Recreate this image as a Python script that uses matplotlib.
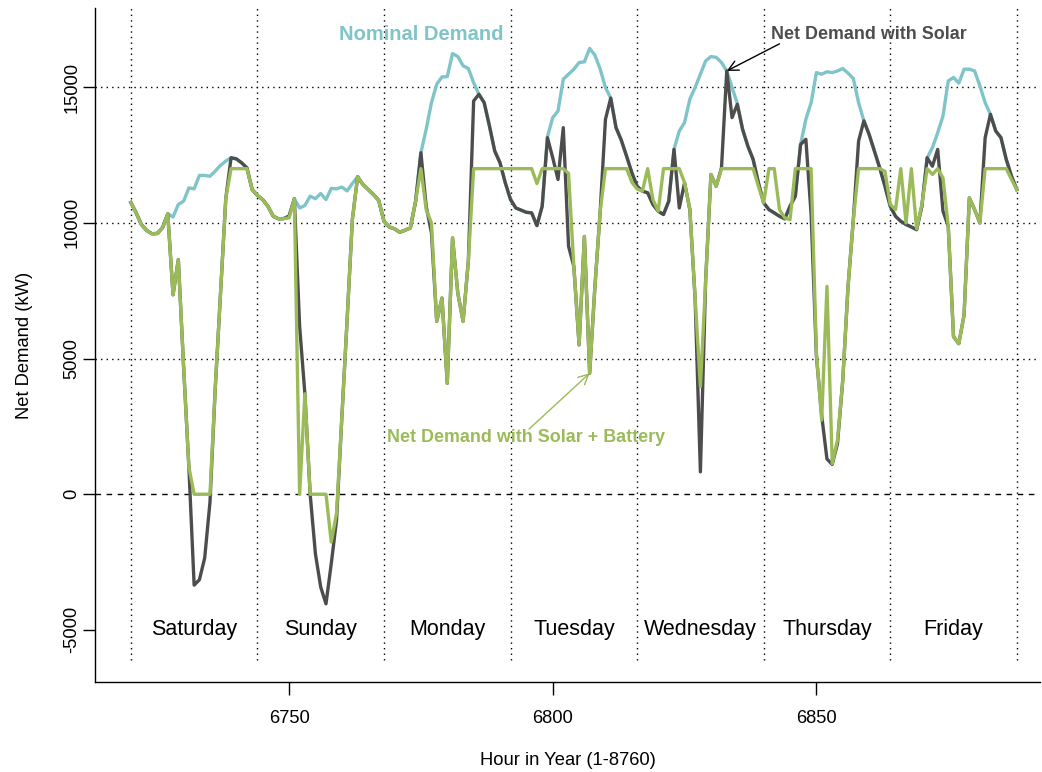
import numpy as np
import matplotlib
matplotlib.use("Agg")
import matplotlib.pyplot as plt

plt.rcParams['font.family'] = ['Liberation Sans', 'DejaVu Sans']

hours = list(range(6720, 6889))

green_battery = [
    10750, 10370, 9940, 9720, 9600, 9610, 9820, 10330, 7350, 8650,
    4700, 1000, 0, 0, 0, 0, 3900, 7400, 10900, 12000,
    12000, 12000, 12000, 11230, 11010, 10860, 10610, 10245, 10150, 10160,
    10185, 10890, 0, 3700, 0, 0, 0, 0, -1760, -700,
    2800, 6400, 10120, 11700, 11415, 11230, 11045, 10830, 10060, 9850,
    9780, 9655, 9730, 9815, 10800, 12000, 10490, 10000, 6370, 7230,
    4090, 9445, 7410, 6370, 8600, 12000, 12000, 12000, 12000, 12000,
    12000, 12000, 12000, 12000, 12000, 12000, 12000, 11450, 12000, 12000,
    12000, 12000, 12000, 11820, 8400, 5505, 9500, 4460, 7660, 10430,
    12000, 12000, 12000, 12000, 12000, 11500, 11250, 11170, 12000, 10860,
    10430, 12000, 12000, 12000, 12000, 11480, 10490, 7200, 3965, 7900,
    11785, 11350, 12000, 12000, 12000, 12000, 12000, 12000, 12000, 11350,
    10740, 12000, 12000, 10490, 10185, 10120, 12000, 12000, 12000, 12000,
    5200, 2735, 7660, 1130, 2000, 4210, 7660, 10120, 12000, 12000,
    12000, 12000, 12000, 11900, 10680, 10490, 12000, 10000, 12000, 9780,
    10680, 12000, 11785, 12000, 11660, 9877, 5810, 5550, 6600, 10920,
    10490, 10000, 12000, 12000, 12000, 12000, 12000, 11600, 11230,
]

net_solar = [
    10750, 10370, 9940, 9720, 9600, 9610, 9820, 10330, 7350, 8650,
    4700, 1000, -3350, -3150, -2350, -300, 3900, 7400, 10900, 12400,
    12360, 12215, 12030, 11230, 11010, 10860, 10610, 10245, 10150, 10160,
    10250, 10890, 6200, 3700, 0, -2200, -3420, -4040, -2560, -960,
    2800, 6400, 10120, 11700, 11415, 11230, 11045, 10830, 10060, 9850,
    9780, 9655, 9730, 9815, 10800, 12586, 10615, 9630, 6370, 7230,
    4090, 9445, 7410, 6370, 8600, 14494, 14740, 14430, 13570, 12650,
    12216, 11478, 10860, 10550, 10470, 10390, 10370, 9900, 10615, 13140,
    12400, 11600, 13510, 9140, 8400, 5505, 9500, 4460, 7660, 10430,
    13820, 14600, 13510, 13050, 12460, 11850, 11350, 11170, 11110, 10680,
    10430, 10310, 10800, 12710, 10550, 11480, 10490, 7200, 825, 7900,
    11785, 11350, 12030, 15600, 13880, 14370, 13450, 12830, 12340, 11480,
    10740, 10490, 10370, 10245, 10150, 10615, 10985, 12890, 13080, 10300,
    5100, 2900, 1300, 1100, 1870, 4210, 7660, 10120, 13020, 13760,
    13260, 12650, 12030, 11350, 10615, 10245, 10060, 9940, 9850, 9750,
    10615, 12400, 12090, 12710, 10430, 9877, 5810, 5550, 6600, 10920,
    10490, 10000, 13140, 14000, 13390, 13140, 12340, 11720, 11230,
]

nominal = [
    10750, 10370, 9940, 9720, 9600, 9610, 9820, 10330, 10220, 10680,
    10800, 11290, 11255, 11750, 11750, 11720, 11910, 12120, 12280, 12400,
    12360, 12215, 12030, 11230, 11010, 10860, 10610, 10245, 10150, 10160,
    10250, 10890, 10550, 10640, 10985, 10890, 11085, 10860, 11270, 11255,
    11320, 11180, 11450, 11700, 11415, 11230, 11045, 10830, 10060, 9850,
    9780, 9655, 9730, 9815, 10800, 12586, 13450, 14430, 15110, 15380,
    15390, 16240, 16130, 15790, 15690, 15170, 14740, 14430, 13570, 12650,
    12216, 11478, 10860, 10550, 10470, 10390, 10370, 9900, 10615, 13180,
    13880, 14125, 15295, 15480, 15665, 15910, 15935, 16430, 16180, 15665,
    14990, 14600, 13510, 13050, 12460, 11850, 11350, 11170, 11110, 10680,
    10430, 10310, 10800, 12710, 13390, 13700, 14560, 14990, 15480, 15970,
    16130, 16100, 15910, 15600, 14990, 14400, 13450, 12830, 12340, 11480,
    10740, 10490, 10370, 10245, 10150, 10615, 10985, 12890, 13820, 14430,
    15540, 15480, 15570, 15540, 15600, 15690, 15520, 15320, 14430, 13760,
    13260, 12650, 12030, 11350, 10615, 10245, 10060, 9940, 9850, 9750,
    10615, 12400, 12770, 13325, 13940, 15230, 15360, 15150, 15665, 15665,
    15600, 15050, 14430, 14000, 13390, 13140, 12340, 11720, 11230,
]

day_names = ["Saturday", "Sunday", "Monday", "Tuesday", "Wednesday", "Thursday", "Friday"]
day_starts = [6720, 6744, 6768, 6792, 6816, 6840, 6864, 6888]
x_ticks = [6750, 6800, 6850]
y_ticks = [-5000, 0, 5000, 10000, 15000]

C_TEAL = "#7ec4c8"
C_DARK = "#4d4d4d"
C_GREEN = "#9bbb59"

fig = plt.figure(figsize=(10.42, 7.72), dpi=100)
ax = fig.add_axes([95 / 1042, 90 / 772, 945 / 1042, 674 / 772])
ax.set_xlim(6713.2, 6892.4)
ax.set_ylim(-6920, 17920)

# grid
for yv in [5000, 10000, 15000]:
    ax.axhline(yv, color="black", lw=1.0, ls=(0, (1, 3)), zorder=1)
ax.axhline(0, color="black", lw=1.0, ls=(0, (4, 4)), zorder=1)
ax.vlines(day_starts, -6100, 17920, colors="black", lw=1.0, linestyles=[(0, (1, 3))], zorder=1)

ax.plot(hours, nominal, color=C_TEAL, lw=2.4, zorder=3, solid_joinstyle="round")
ax.plot(hours, net_solar, color=C_DARK, lw=2.4, zorder=4, solid_joinstyle="round")
ax.plot(hours, green_battery, color=C_GREEN, lw=2.4, zorder=5, solid_joinstyle="round")

for i, name in enumerate(day_names):
    ax.text(day_starts[i] + 12, -5000, name, ha="center", va="center", fontsize=15.5, color="black")

ax.text(6775, 16950, "Nominal Demand", color=C_TEAL, fontsize=14.5, fontweight="bold",
        ha="center", va="center")
ax.text(6860, 16950, "Net Demand with Solar", color=C_DARK, fontsize=12.9, fontweight="bold",
        ha="center", va="center")
ax.annotate("", xy=(6833, 15600), xytext=(6843, 16600),
            arrowprops=dict(arrowstyle="->", color="black", lw=1.0, shrinkA=0, shrinkB=0,
                            mutation_scale=18))
ax.text(6795, 2100, "Net Demand with Solar + Battery", color=C_GREEN, fontsize=12.9,
        fontweight="bold", ha="center", va="center")
ax.annotate("", xy=(6807, 4460), xytext=(6795.5, 2400),
            arrowprops=dict(arrowstyle="->", color=C_GREEN, lw=1.0, shrinkA=0, shrinkB=0,
                            mutation_scale=18))

ax.spines["top"].set_visible(False)
ax.spines["right"].set_visible(False)
ax.spines["left"].set_linewidth(1.0)
ax.spines["bottom"].set_linewidth(1.0)

ax.set_xticks(x_ticks)
ax.set_xticklabels([str(v) for v in x_ticks], fontsize=13.2)
ax.set_yticks(y_ticks)
ax.set_yticklabels([str(v) for v in y_ticks], fontsize=13.2, rotation=90, va="center")
ax.tick_params(axis="x", length=9, width=1.0, pad=11)
ax.tick_params(axis="y", length=9, width=1.0, pad=1.5)

ax.set_xlabel("Hour in Year (1-8760)", fontsize=13.2, labelpad=18.5)
ax.set_ylabel("Net Demand (kW)", fontsize=13.2, labelpad=22)

fig.savefig("out.png", dpi=100)
